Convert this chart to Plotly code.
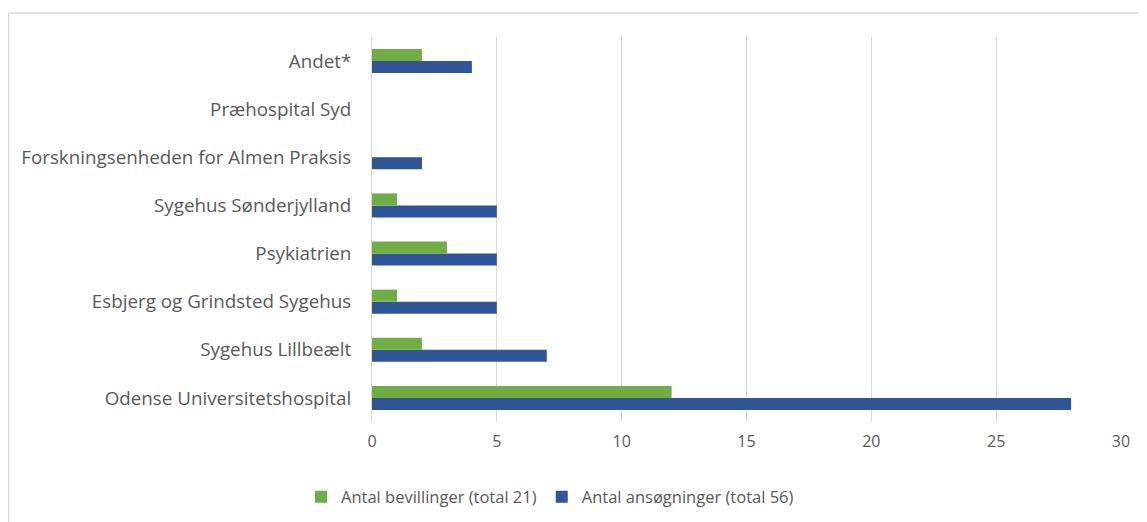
import plotly.graph_objects as go

categories = [
    "Odense Universitetshospital",
    "Sygehus Lillbeælt",
    "Esbjerg og Grindsted Sygehus",
    "Psykiatrien",
    "Sygehus Sønderjylland",
    "Forskningsenheden for Almen Praksis",
    "Præhospital Syd",
    "Andet*",
]
bevillinger = [12, 2, 1, 3, 1, 0, 0, 2]
ansoegninger = [28, 7, 5, 5, 5, 2, 0, 4]
name_bev = "Antal bevillinger (total 21)"
name_ans = "Antal ansøgninger (total 56)"
x_ticks = [0, 5, 10, 15, 20, 25, 30]

OFF = 8  # page body margin
W, H = 1147, 522
L, T = 372 - OFF, 37 - OFF
R = W - (1121 - OFF)
B = H - (422 - OFF)
pw, ph = W - L - R, H - T - B

fig = go.Figure()
fig.add_trace(go.Bar(
    y=categories, x=ansoegninger, orientation="h", name=name_ans,
    marker=dict(color="#2F5597", line=dict(width=0)),
    legendrank=2,
))
fig.add_trace(go.Bar(
    y=categories, x=bevillinger, orientation="h", name=name_bev,
    marker=dict(color="#70AD47", line=dict(width=0)),
    legendrank=1,
))

fam = "Open Sans, Liberation Sans, sans-serif"
grey = "#595959"

fig.update_layout(
    width=W, height=H,
    margin=dict(l=L, r=R, t=T, b=B, autoexpand=False),
    paper_bgcolor="white", plot_bgcolor="white",
    barmode="group", bargap=0.5, bargroupgap=0,
    font=dict(family=fam, size=16, color=grey),
    showlegend=True,
    legend=dict(
        orientation="h", x=(550 - OFF - L) / pw, xanchor="center",
        y=(T + ph - (497 - OFF)) / ph, yanchor="middle",
        font=dict(family=fam, size=16.5, color=grey),
        itemwidth=30, tracegroupgap=0,
    ),
    xaxis=dict(
        range=[0, 30], tickvals=x_ticks, showgrid=True, gridcolor="#D9D9D9",
        gridwidth=1, zeroline=False, showline=False, ticks="",
        ticklabelstandoff=8, fixedrange=True,
        tickfont=dict(family=fam, size=16, color=grey),
    ),
    yaxis=dict(
        categoryorder="array", categoryarray=categories,
        showgrid=False, showline=True, linecolor="#D9D9D9", linewidth=1,
        ticks="", ticklabelstandoff=16, fixedrange=True,
        tickfont=dict(family=fam, size=18.8, color=grey),
    ),
    shapes=[
        dict(type="line", xref="paper", yref="paper",
             x0=(8.5 - OFF - L) / pw, x1=(8.5 - OFF - L) / pw,
             y0=(T + ph - H - 5) / ph, y1=1 + (T - (13 - OFF)) / ph,
             line=dict(color="#D9D9D9", width=1.5)),
        dict(type="line", xref="paper", yref="paper",
             x0=(8.5 - OFF - L) / pw, x1=(W + 5 - L) / pw,
             y0=1 + (T - (13 - OFF)) / ph, y1=1 + (T - (13 - OFF)) / ph,
             line=dict(color="#D9D9D9", width=1.5)),
    ],
)

fig.write_html("out.html")
